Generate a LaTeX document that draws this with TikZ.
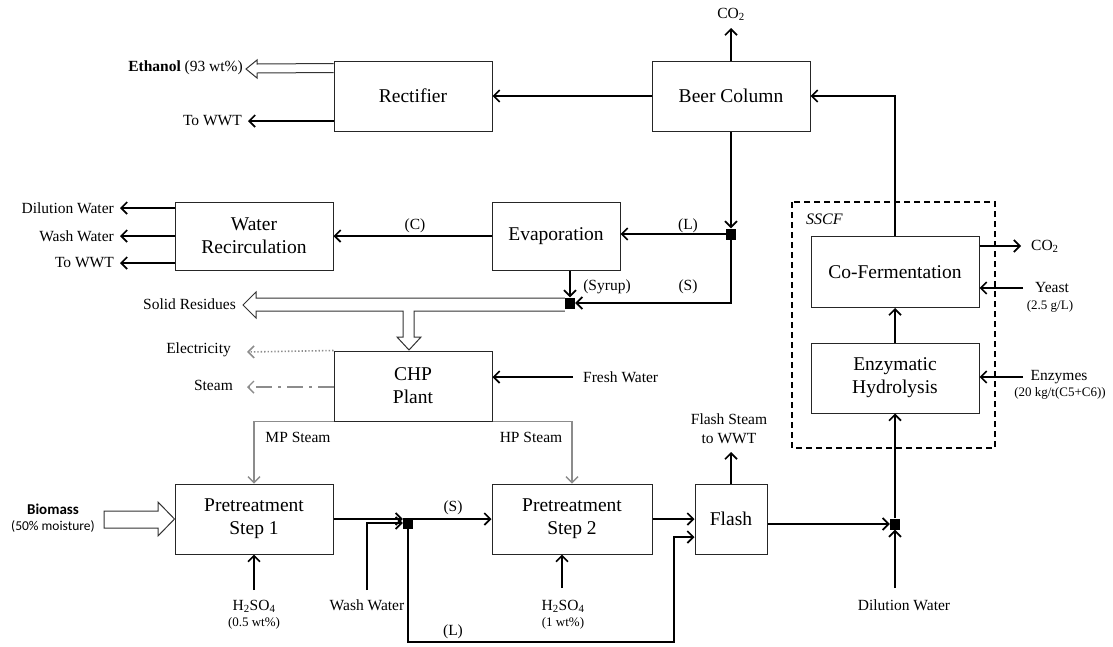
\documentclass[tikz,border=0pt]{standalone}
\usepackage{fontspec}
\setmainfont{Liberation Serif}
\newfontfamily\cali{Carlito}
\usetikzlibrary{arrows.meta,calc}

\tikzset{
  unit/.style={draw=black!85, line width=1pt, inner sep=0pt, align=center,
    font=\fontsize{19.5}{23}\selectfont},
  lbl/.style={inner sep=0pt, align=center, font=\fontsize{15.5}{19}\selectfont},
  small/.style={inner sep=0pt, align=center, font=\fontsize{13}{16}\selectfont},
  flow/.style={line width=1.7pt, -{Straight Barb[length=6pt,width=12pt]}},
  gflow/.style={draw=black!45, line width=1.4pt, -{Straight Barb[length=6pt,width=12pt]}},
  hollow/.style={draw=black!80, line width=1pt, fill=white},
  junc/.style={fill=black, inner sep=0pt, minimum width=10pt, minimum height=11pt}
}

\begin{document}
\begin{tikzpicture}[x=1pt,y=-1pt]
\useasboundingbox (0,0) rectangle (1113,646);

% process units
\node[unit, minimum width=158pt, minimum height=70pt] (rect) at (413,96) {Rectifier};
\node[unit, minimum width=158pt, minimum height=70pt] (bc)   at (731,96) {Beer Column};
\node[unit, minimum width=158pt, minimum height=68pt] (wr)   at (254,236) {Water\\Recirculation};
\node[unit, minimum width=128pt, minimum height=68pt] (evap) at (556,236) {Evaporation};
\node[unit, minimum width=158pt, minimum height=70pt] (chp)  at (413,386) {CHP\\Plant};
\node[unit, minimum width=158pt, minimum height=70pt] (ps1)  at (254,519) {Pretreatment\\Step 1};
\node[unit, minimum width=160pt, minimum height=70pt] (ps2)  at (572,519) {Pretreatment\\Step 2};
\node[unit, minimum width=72pt,  minimum height=70pt] (flash) at (731,519) {Flash};
\node[unit, minimum width=168pt, minimum height=71pt] (cf)   at (895,272) {Co-Fermentation};
\node[unit, minimum width=168pt, minimum height=70pt] (eh)   at (895,378) {Enzymatic\\Hydrolysis};

% SSCF envelope
\draw[line width=1.5pt, dash pattern=on 6pt off 4pt] (792,202) rectangle (995,448);
\node[lbl, font=\fontsize{16}{19}\selectfont\itshape, anchor=west] (sscf) at (806,219) {SSCF};

% mixing / splitting points
\node[junc] (J1) at (731,234) {};
\node[junc] (J2) at (570,303) {};
\node[junc] (J3) at (408,523) {};
\node[junc] (J4) at (895,524) {};

% beer column and rectifier
\draw[flow] (bc.west) -- (rect.east);
\coordinate (co2top) at (731,28);
\draw[flow] (bc.north) -- (co2top);
\node[lbl] (co2a) at (731,14) {CO\textsubscript{2}};
\draw[flow] (cf.north) |- (bc.east);

\draw[hollow] ($(rect.north west)+(0,3)$) -- (257,64) -- (257,60) -- (246,69)
  -- (257,78) -- (257,73) -- ($(rect.north west)+(0,12)$);
\node[lbl, anchor=east] (eth) at (243,68) {\textbf{Ethanol} (93 wt\%)};
\coordinate (wwt1) at (248,121);
\draw[flow] (rect.west |- wwt1) -- (wwt1);
\node[lbl, anchor=east] (wwt1l) at (242,121) {To WWT};

% beer column bottoms split
\draw[flow] (bc.south) -- (J1.north);
\draw[flow] (J1.west) -- (evap.east |- J1);
\node[lbl] (lL) at (688,226) {(L)};
\draw[flow] (J1.south) |- (J2.east);
\node[lbl] (lS) at (688,287) {(S)};
\draw[flow] (J2 |- evap.south) -- (J2.north);
\node[lbl] (lsy) at (607,287) {(Syrup)};

% evaporation condensate to water recirculation
\draw[flow] (evap.west) -- (wr.east);
\node[lbl] (lC) at (415,226) {(C)};
\foreach \yy/\txt/\nm in {208/Dilution Water/dwo, 236/Wash Water/wwo, 263/To WWT/wto}{
  \coordinate (\nm) at (120,\yy);
  \draw[flow] (wr.west |- \nm) -- (\nm);
  \node[lbl, anchor=east] at (114,\yy) {\txt};
}

% solid residues to CHP and export
\draw[hollow] (J2.west |- 0,298) -- (256,298) -- (256,292) -- (243,305) -- (256,318)
  -- (256,311) -- (403,311) -- (403,337) -- (397,337) -- (409,350) -- (421,337)
  -- (414,337) -- (414,311) -- (J2.west |- 0,311);
\node[lbl, anchor=east] (sr) at (236,304) {Solid Residues};

% CHP plant
\coordinate (elec) at (247,352);
\draw[gflow, dotted, line width=1.6pt] (chp.north west) -- (elec);
\node[lbl, anchor=east] (elecl) at (231,350) {Electricity};
\coordinate (stm) at (247,387);
\draw[gflow, dash pattern=on 16pt off 6pt on 3pt off 6pt] (chp.west |- stm) -- (stm);
\node[lbl, anchor=east] (stml) at (233,385) {Steam};
\coordinate (fw) at (573,377);
\draw[flow] (fw) -- (chp.east |- fw);
\node[lbl, anchor=west] (fwl) at (583,377) {Fresh Water};
\draw[gflow] (chp.south west) -| (ps1.north);
\node[lbl] (mp) at (298,437) {MP Steam};
\draw[gflow] (chp.south east) -| (ps2.north);
\node[lbl] (hp) at (531,437) {HP Steam};

% pretreatment
\draw[hollow] (104,511) -- (158,511) -- (158,502) -- (ps1.west) -- (158,536)
  -- (158,528) -- (104,528) -- cycle;
\node[lbl, font=\cali\bfseries\fontsize{15}{18}\selectfont] (bio) at (53,509) {Biomass};
\node[small, font=\cali\fontsize{13.5}{16}\selectfont] (biom) at (53,526) {(50\% moisture)};

\coordinate (acid1) at (254,590);
\draw[flow] (acid1) -- (ps1.south);
\node[lbl] (a1) at (254,606) {H\textsubscript{2}SO\textsubscript{4}};
\node[small] (a1c) at (254,623) {(0.5 wt\%)};

\draw[flow] (ps1.east) -- (ps1.east -| J3.west);
\coordinate (wwin) at (367,590);
\draw[flow] (wwin) |- (J3.west);
\node[lbl] (wwl) at (367,605) {Wash Water};

\draw[flow] (J3.east |- ps2.west) -- (ps2.west);
\node[lbl] (lS2) at (453,508) {(S)};

\coordinate (lturn) at (674,642);
\coordinate (flin) at ($(flash.west)+(0,18)$);
\draw[flow] (J3.south) |- (lturn) |- (flin);
\node[lbl] (lL2) at (453,632) {(L)};

\coordinate (acid2) at (562,588);
\draw[flow] (acid2) -- (acid2 |- ps2.south);
\node[lbl] (a2) at (563,606) {H\textsubscript{2}SO\textsubscript{4}};
\node[small] (a2c) at (563,623) {(1 wt\%)};

% flash
\draw[flow] (ps2.east) -- (flash.west);
\coordinate (fst) at (731,452);
\draw[flow] (flash.north) -- (fst);
\node[lbl] (fsl) at (729,429) {Flash Steam\\to WWT};
\draw[flow] (flash.east |- J4) -- (J4.west);

% dilution and SSCF
\coordinate (dwin) at (895,588);
\draw[flow] (dwin) -- (J4.south);
\node[lbl] (dwl) at (904,605) {Dilution Water};
\draw[flow] (J4.north) -- (eh.south);
\draw[flow] (eh.north) -- (cf.south);

\coordinate (co2b) at (1021,246);
\draw[flow] (cf.east |- co2b) -- (co2b);
\node[lbl, anchor=west] (co2bl) at (1031,246) {CO\textsubscript{2}};
\coordinate (yst) at (1023,288);
\draw[flow] (yst) -- (cf.east |- yst);
\node[lbl] (ystl) at (1052,287) {Yeast};
\node[small] (ystc) at (1050,306) {(2.5 g/L)};
\coordinate (enz) at (1023,377);
\draw[flow] (enz) -- (eh.east |- enz);
\node[lbl] (enzl) at (1059,377) {Enzymes};
\node[small] (enzc) at (1060,393) {(20 kg/t(C5+C6))};
\end{tikzpicture}
\end{document}
